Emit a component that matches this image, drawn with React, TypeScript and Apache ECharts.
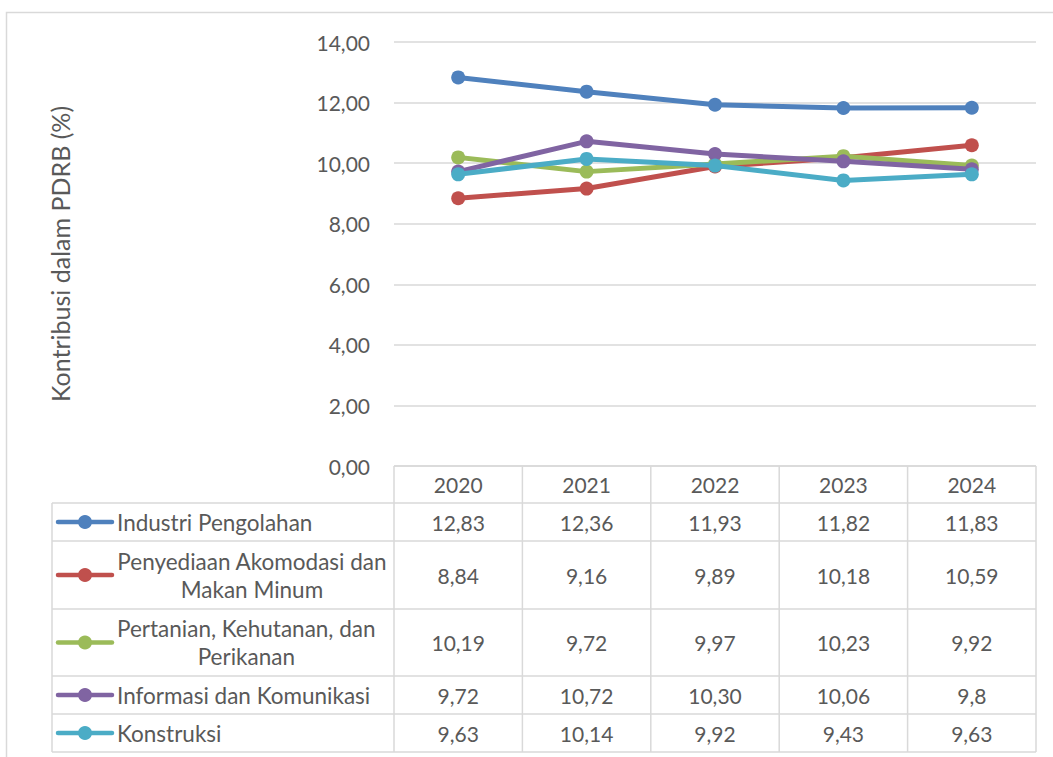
import React, { useEffect, useRef } from "react";
import * as echarts from "echarts";

// ---- data ----
const years = ["2020", "2021", "2022", "2023", "2024"];
const seriesNames = [
  "Industri Pengolahan",
  "Penyediaan Akomodasi dan Makan Minum",
  "Pertanian, Kehutanan, dan Perikanan",
  "Informasi dan Komunikasi",
  "Konstruksi",
];
const legendLabelLines = [
  ["Industri Pengolahan"],
  ["Penyediaan Akomodasi dan", "Makan Minum"],
  ["Pertanian, Kehutanan, dan", "Perikanan"],
  ["Informasi dan Komunikasi"],
  ["Konstruksi"],
];
const industriPengolahan = ["12,83", "12,36", "11,93", "11,82", "11,83"];
const penyediaanAkomodasi = ["8,84", "9,16", "9,89", "10,18", "10,59"];
const pertanian = ["10,19", "9,72", "9,97", "10,23", "9,92"];
const informasiKomunikasi = ["9,72", "10,72", "10,30", "10,06", "9,8"];
const konstruksi = ["9,63", "10,14", "9,92", "9,43", "9,63"];
const allSeries = [industriPengolahan, penyediaanAkomodasi, pertanian, informasiKomunikasi, konstruksi];
const yMin = 0;
const yMax = 14;
const yInterval = 2;
const yTitle = "Kontribusi dalam PDRB (%)";

// ---- styles / layout ----
const colors = ["#4F81BD", "#C0504D", "#9BBB59", "#8064A2", "#4BACC6"];
const FONT = "Lato";
const FS = 21;
const FS_LEG = 22.5;
const FS_TITLE = 25;
const TXT = "#595959";
const GRIDC = "#d9d9d9";
const W = 1053;
const H = 757;
const GL = 394;
const GR = 1036;
const GT = 42;
const GB = 466;
const TABLE_L = 52;
const rowBounds = [466, 503, 541, 609, 676, 714, 752];
const LEGEND_TEXT_X = 117;

const toNum = (s: string) => parseFloat(s.replace(",", "."));

function measure(text: string, fs: number) {
  const ctx = document.createElement("canvas").getContext("2d");
  if (!ctx) return text.length * fs * 0.5;
  ctx.font = `${fs}px ${FONT}`;
  return ctx.measureText(text).width;
}

export default function App() {
  const ref = useRef<HTMLDivElement>(null);
  useEffect(() => {
    document.body.style.margin = "0";
    if (!ref.current) return;
    const chart = echarts.init(ref.current, null, { renderer: "svg" });
    const option: any = {
      animation: false,
      backgroundColor: "#ffffff",
      grid: { left: GL, right: W - GR, top: GT, bottom: H - GB, containLabel: false },
      xAxis: {
        type: "category",
        data: years,
        boundaryGap: true,
        axisLabel: { show: false },
        axisLine: { show: false },
        axisTick: { show: false },
      },
      yAxis: {
        type: "value",
        min: yMin,
        max: yMax,
        interval: yInterval,
        name: yTitle,
        nameLocation: "middle",
        nameGap: 322,
        nameRotate: 90,
        nameTextStyle: { fontFamily: FONT, fontSize: FS_TITLE, color: TXT },
        axisLabel: {
          margin: 24,
          fontFamily: FONT,
          fontSize: FS,
          color: TXT,
          formatter: (v: number) => v.toFixed(2).replace(".", ","),
        },
        axisLine: { show: false },
        axisTick: { show: false },
        splitLine: { lineStyle: { color: GRIDC, width: 1.5 } },
      },
      series: allSeries.map((arr, i) => ({
        type: "line",
        name: seriesNames[i],
        data: arr.map(toNum),
        symbol: "circle",
        symbolSize: 14,
        color: colors[i],
        lineStyle: { width: 5, color: colors[i] },
        itemStyle: { color: colors[i] },
        z: 2 + i,
      })),
    };
    chart.setOption(option);

    // table drawn from data arrays
    const bandW = (GR - GL) / years.length;
    const centers = years.map((y) => chart.convertToPixel({ xAxisIndex: 0 }, y) as number);
    const g: any[] = [];
    const line = (x1: number, y1: number, x2: number, y2: number) =>
      g.push({
        type: "line",
        silent: true,
        shape: { x1, y1, x2, y2 },
        style: { stroke: GRIDC, lineWidth: 1.5 },
      });
    // outer chart border
    g.push({
      type: "rect",
      silent: true,
      shape: { x: 6.5, y: 12.5, width: 1200, height: 900 },
      style: { fill: "none", stroke: GRIDC, lineWidth: 1.5 },
    });
    line(GL, rowBounds[0], GR, rowBounds[0]);
    for (let r = 1; r < rowBounds.length; r++) line(TABLE_L, rowBounds[r], GR, rowBounds[r]);
    line(TABLE_L, rowBounds[1], TABLE_L, rowBounds[rowBounds.length - 1]);
    for (let c = 0; c <= years.length; c++) {
      const x = GL + c * bandW;
      line(x, rowBounds[0], x, rowBounds[rowBounds.length - 1]);
    }
    const txt = (text: string, x: number, y: number, align: string, fs: number) =>
      g.push({
        type: "text",
        silent: true,
        x,
        y,
        style: {
          text,
          fontFamily: FONT,
          fontSize: fs,
          fill: TXT,
          align,
          verticalAlign: "middle",
        },
      });
    const hy = (rowBounds[0] + rowBounds[1]) / 2;
    years.forEach((y, c) => txt(y, centers[c], hy, "center", FS));
    allSeries.forEach((arr, r) => {
      const top = rowBounds[r + 1];
      const bot = rowBounds[r + 2];
      const cy = (top + bot) / 2;
      arr.forEach((v, c) => txt(v, centers[c], cy, "center", FS));
      g.push({
        type: "line",
        silent: true,
        shape: { x1: 58, y1: cy, x2: 112, y2: cy },
        style: { stroke: colors[r], lineWidth: 4.5, lineCap: "round" },
      });
      g.push({ type: "circle", silent: true, shape: { cx: 85, cy, r: 7 }, style: { fill: colors[r] } });
      const lines = legendLabelLines[r];
      if (lines.length === 1) {
        txt(lines[0], LEGEND_TEXT_X, cy, "left", FS_LEG);
      } else {
        const wMax = Math.max(...lines.map((l) => measure(l, FS_LEG)));
        const mid = LEGEND_TEXT_X + wMax / 2;
        const lh = 28;
        lines.forEach((l, k) => txt(l, mid, cy + (k - (lines.length - 1) / 2) * lh, "center", FS_LEG));
      }
    });
    chart.setOption({ graphic: { elements: g } });

    return () => chart.dispose();
  }, []);
  return <div ref={ref} style={{ width: W, height: H }} />;
}
